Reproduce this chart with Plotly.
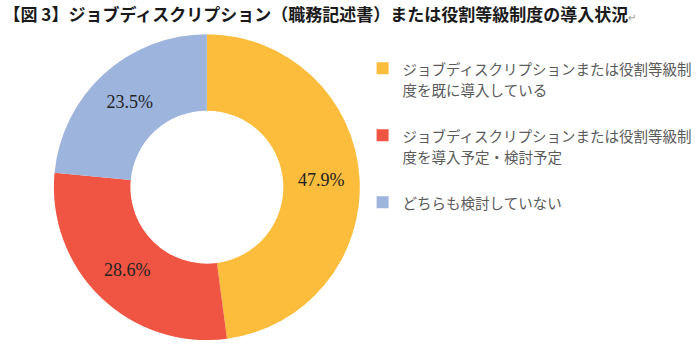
import plotly.graph_objects as go

categories = [
    "ジョブディスクリプションまたは役割等級制<br>度を既に導入している",
    "ジョブディスクリプションまたは役割等級制<br>度を導入予定・検討予定",
    "どちらも検討していない",
]
values = [47.9, 28.6, 23.5]
colors = ["#FDBD3C", "#F05442", "#9DB4DD"]
title_text = "【図 3】ジョブディスクリプション（職務記述書）または役割等級制度の導入状況"

SPAN = "<span style='font-size:14.5px'>"
legend_names = []
for i, c in enumerate(categories):
    name = SPAN + c.replace("<br>", "</span><br>" + SPAN) + "</span>"
    if i < len(categories) - 1:
        name += "<br>" + SPAN + "&nbsp;</span>"
    legend_names.append(name)

fig = go.Figure(
    go.Pie(
        labels=legend_names,
        values=values,
        hole=0.5,
        sort=False,
        direction="clockwise",
        rotation=0,
        marker=dict(colors=colors, line=dict(width=0)),
        texttemplate="%{value:.1f}%",
        textposition="inside",
        insidetextorientation="horizontal",
        textfont=dict(family="Liberation Serif, DejaVu Serif, serif", size=18, color="#222222"),
        domain=dict(x=[0.077, 0.514], y=[0.014, 0.901]),
        hoverinfo="value",
    )
)

fig.update_layout(
    width=700,
    height=345,
    margin=dict(l=0, r=0, t=0, b=0),
    paper_bgcolor="white",
    plot_bgcolor="white",
    font=dict(family="Noto Sans CJK JP, sans-serif"),
    title=dict(
        text="<b>" + title_text + "</b><span style='color:#999;font-size:10px'>↵</span>",
        x=0.005,
        xanchor="left",
        y=0.975,
        yanchor="top",
        font=dict(family="Noto Sans CJK JP, sans-serif", size=17, color="#1a1a1a"),
    ),
    legend=dict(
        x=0.518,
        xanchor="left",
        y=0.852,
        yanchor="top",
        valign="top",
        font=dict(family="Noto Sans CJK JP, sans-serif", size=16.4, color="#5a5a5a"),
        tracegroupgap=0,
        traceorder="normal",
        itemclick=False,
    ),
    showlegend=True,
)

fig.write_html("out.html")
